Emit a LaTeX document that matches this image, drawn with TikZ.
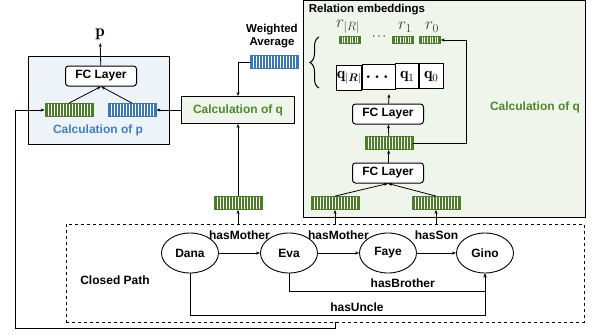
\documentclass[tikz,border=0pt]{standalone}
\usepackage{fontspec}
\setsansfont{Liberation Sans}
\usepackage{amsmath}
\usetikzlibrary{matrix}
\usetikzlibrary{positioning}
\usetikzlibrary{arrows.meta}
\usetikzlibrary{shapes.geometric}
\usetikzlibrary{decorations.pathreplacing}

\definecolor{vgreen}{HTML}{4A7C2A}
\definecolor{vblue}{HTML}{3B78B5}
\definecolor{tgreen}{HTML}{4C8A2B}
\definecolor{tblue}{HTML}{3F7FC4}
\definecolor{pfill}{HTML}{EEF3F9}
\definecolor{qfill}{HTML}{EFF5EA}

\tikzset{
  stripes/.style 2 args={path picture={
      \foreach \k in {1,...,#1}
        \draw[white, line width=0.7pt]
          ([xshift=\k*#2]path picture bounding box.south west) --
          ([xshift=\k*#2]path picture bounding box.north west);}},
  vecg/.style={draw=vgreen, fill=vgreen, line width=0.8pt, inner sep=0,
      minimum width=48pt, minimum height=13pt, stripes={15}{3pt}},
  vecb/.style={vecg, draw=vblue, fill=vblue},
  rvec/.style={draw=vgreen, fill=vgreen, line width=0.6pt, inner sep=0,
      minimum width=21pt, minimum height=7pt, stripes={7}{2.6pt}},
  fclayer/.style={draw, line width=1pt, rounded corners=3pt, fill=white,
      minimum width=71pt, minimum height=20pt, inner sep=0},
  person/.style={draw, ellipse, line width=0.9pt, fill=white,
      minimum width=57pt, minimum height=40pt, inner sep=0},
  mathlbl/.style={font=\fontsize{17}{20}\selectfont},
  arr/.style={line width=0.8pt, -{Stealth[length=4pt,width=3pt]}},
}

\begin{document}
\begin{tikzpicture}
  [x=1pt, y=-1pt,
   font=\sffamily\bfseries\fontsize{12}{14}\selectfont,
   qmat/.style={matrix of nodes,
      nodes={draw, line width=0.9pt, fill=white, minimum height=25pt,
        inner sep=0, font=\fontsize{16}{18}\selectfont},
      column sep=-\pgflinewidth,
      column 1/.style={nodes={minimum width=25pt}},
      column 2/.style={nodes={minimum width=33pt}},
      column 3/.style={nodes={minimum width=23pt}},
      column 4/.style={nodes={minimum width=24pt}},
  }]
  \useasboundingbox (0,0) rectangle (598,335);

  % boxes
  \node[draw, line width=1pt, fill=pfill, minimum width=141pt,
    minimum height=88pt] (pbox) at (98.5,100) {};
  \node[draw, line width=1pt, fill=qfill, minimum width=282pt,
    minimum height=217pt] (qbox) at (444,109) {};
  \node[draw, dashed, line width=0.8pt, minimum width=518pt,
    minimum height=98pt] (cpbox) at (325,273) {};

  % calculation of p
  \node[fclayer] (fcp) at (101,76) {FC Layer};
  \node[vecg] (vgp) at (69,110) {};
  \node[vecb] (vbp) at (132,110) {};
  \node[text=tblue] (ptxt) at (98,130) {Calculation of p};
  \node[mathlbl] (plabel) at (100,34) {$\mathbf{p}$};

  % calculation of q
  \node[draw, line width=1pt, fill=qfill, text=tgreen, minimum width=113pt,
    minimum height=27pt] (calcq) at (238,110) {Calculation of q};
  \node[align=center, font=\sffamily\bfseries\fontsize{11.5}{13}\selectfont]
    (watxt) at (272,36) {Weighted\\Average};
  \node[vecb] (vwa) at (274,62) {};
  \node[vecg] (vc) at (238,203) {};

  % relation embeddings
  \node[font=\sffamily\bfseries\fontsize{11.5}{13}\selectfont] (retxt)
    at (367,10) {Relation embeddings};
  \node[rvec] (rR) at (350,40) {};
  \node[rvec] (r1) at (403,40) {};
  \node[rvec] (r0) at (430,40) {};
  \node (rdots) at (380,37) {$\cdots$};
  \node[mathlbl, text=black!75] (rRl) at (348,27) {$r_{|R|}$};
  \node[mathlbl, text=black!75] (r1l) at (405,27) {$r_1$};
  \node[mathlbl, text=black!75] (r0l) at (432,27) {$r_0$};
  \matrix[qmat] (qtab) at (390,77)
         {
           $\mathbf{q}_{|\boldsymbol{R}|}$ & $\boldsymbol{\dots}$ & $\mathbf{q}_1$ & $\mathbf{q}_0$ \\
         };
  \draw[decorate, decoration={brace, amplitude=9pt}, line width=1pt]
    (319,88) -- (319,37);
  \node[fclayer] (fc1) at (388,114) {FC Layer};
  \node[vecg] (vmid) at (389,143) {};
  \node[fclayer] (fc2) at (388,173) {FC Layer};
  \node[vecg] (vl) at (335,203) {};
  \node[vecg] (vr) at (436,203) {};
  \node[text=tgreen] (qtxt) at (535,107) {Calculation of q};

  % closed path
  \node (cptxt) at (115,280) {Closed Path};
  \node[person] (dana) at (190,253) {Dana};
  \node[person] (eva) at (289,253) {Eva};
  \node[person] (faye) at (388,253) {Faye};
  \node[person] (gino) at (485,253) {Gino};

  \draw[arr] (dana) -- node[above=10pt] {hasMother} (eva);
  \draw[arr] (eva) -- node[above=10pt] {hasMother} (faye);
  \draw[arr] (faye) -- node[above=10pt] {hasSon} (gino);
  \draw[arr] (eva.south) -- ++(0,18) -| node[pos=0.29, above] {hasBrother} (gino.south);
  \draw[arr] (dana.south) -- ++(0,42) -| node[pos=0.283, above] {hasUncle} (gino.south);

  % connectors
  \draw[arr] (fcp) -- (plabel);
  \draw[arr] (vgp.north) -- (fcp.south);
  \draw[arr] (vbp.north) -- (fcp.south);
  \draw[arr] (calcq) -- (vbp);
  \draw[arr] (vwa.west) -| (calcq.north);
  \draw[arr] (vc) -- (calcq);
  \draw[arr] (vc |- cpbox.north) -- (vc);
  \draw[arr] (vl |- cpbox.north) -- (vl);
  \draw[arr] (vr |- cpbox.north) -- (vr);
  \draw[arr] (vl.north) -- (fc2.south);
  \draw[arr] (vr.north) -- (fc2.south);
  \draw[arr] (fc2) -- (vmid);
  \draw[arr] (vmid) -- (fc1);
  \draw[arr] (fc1) -- (qtab);
  \draw[arr] (vmid.east) -- ++(53,0) |- (r0.east);
  \coordinate (fb) at ([xshift=10pt]cpbox.south);
  \draw[arr] (fb) -- ++(0,6) -| (15,110) -- (vgp.west);
\end{tikzpicture}
\end{document}
